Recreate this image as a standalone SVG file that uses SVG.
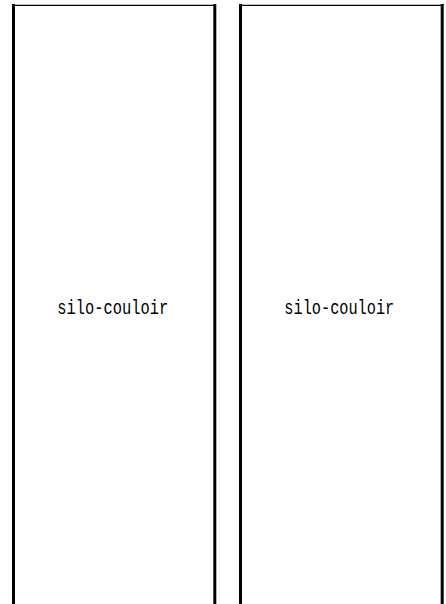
<svg xmlns="http://www.w3.org/2000/svg" width="446" height="604" viewBox="0 0 446 604">
<style>
.top{stroke:#000;stroke-width:1.3;fill:none}
.side{stroke:#000;stroke-width:3;fill:none}
.lbl{font-family:"Liberation Mono","DejaVu Sans Mono",monospace;font-size:19.5px;fill:#000}
</style>
<rect width="446" height="604" fill="#fff"/>
<g id="silo1">
<line class="top" x1="12" y1="5.3" x2="216" y2="5.3"/>
<line class="side" x1="13.5" y1="4" x2="13.5" y2="604"/>
<line class="side" x1="214.8" y1="4" x2="214.8" y2="604"/>
<text class="lbl" x="57.3" y="314" textLength="111" lengthAdjust="spacingAndGlyphs">silo-couloir</text>
</g>
<g id="silo2">
<line class="top" x1="239" y1="5.3" x2="443.5" y2="5.3"/>
<line class="side" x1="240.5" y1="4" x2="240.5" y2="604"/>
<line class="side" x1="442.2" y1="4" x2="442.2" y2="604"/>
<text class="lbl" x="284.3" y="314" textLength="110" lengthAdjust="spacingAndGlyphs">silo-couloir</text>
</g>
<g id="connectors"></g>
</svg>
